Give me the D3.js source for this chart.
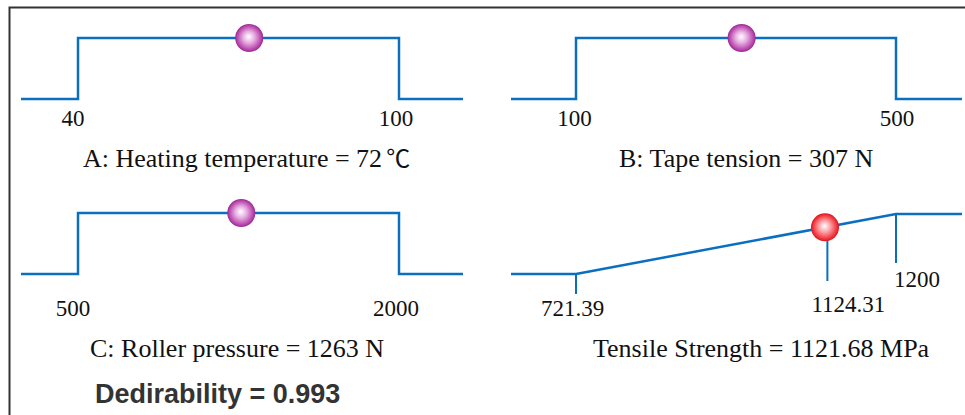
<!DOCTYPE html>
<html>
<head>
<meta charset="utf-8">
<script src="https://cdn.jsdelivr.net/npm/d3@7"></script>
<style>
  html, body { margin: 0; padding: 0; background: #fff; }
  svg { display: block; }
</style>
</head>
<body>
<svg id="chart" width="965" height="415"></svg>
<script>
// ---------------- data ----------------
const factorNames = ["A: Heating temperature", "B: Tape tension", "C: Roller pressure", "Tensile Strength"];
const factorUnits = ["℃", " N", " N", " MPa"];
const lowLimits = [40, 100, 500, 721.39];
const highLimits = [100, 500, 2000, 1200];
const optimumValues = [72, 307, 1263, 1121.68];
const optimumLabels = ["72", "307", "1263", "1121.68"];
const lowTickLabels = ["40", "100", "500", "721.39"];
const highTickLabels = ["100", "500", "2000", "1200"];
const predictedTick = 1124.31;
const predictedTickLabel = "1124.31";
const desirabilityValue = "0.993";

// ---------------- layout ----------------
const layout = [
  { left: 21, right: 463, xLow: 78, xHigh: 399, yTop: 38, yBase: 99, tickY: 126, titleX: 83, titleY: 167, kind: "step", grad: "gPurple" },
  { left: 511, right: 962, xLow: 576, xHigh: 896, yTop: 38, yBase: 99, tickY: 126, titleX: 619, titleY: 167, kind: "step", grad: "gPurple" },
  { left: 21, right: 463, xLow: 78, xHigh: 399, yTop: 213, yBase: 274, tickY: 316, titleX: 90, titleY: 357, kind: "step", grad: "gPurple" },
  { left: 511, right: 962, xLow: 576, xHigh: 896, xOpt: 825, yTop: 214, yBase: 274, tickY: 316, titleX: 593, titleY: 357, kind: "ramp", grad: "gRed" }
];
const lineColor = "#0a6fc0";
const serif = "'Liberation Serif', 'Times New Roman', 'DejaVu Serif', 'Noto Sans CJK SC', serif";

const svg = d3.select("#chart");
const defs = svg.append("defs");

function radial(id, mid, edge, rim) {
  const g = defs.append("radialGradient").attr("id", id)
    .attr("cx", "50%").attr("cy", "50%").attr("r", "50%")
    .attr("fx", "48%").attr("fy", "45%");
  g.append("stop").attr("offset", "0%").attr("stop-color", "#ffffff");
  g.append("stop").attr("offset", "40%").attr("stop-color", mid);
  g.append("stop").attr("offset", "88%").attr("stop-color", edge);
  g.append("stop").attr("offset", "100%").attr("stop-color", rim);
}
radial("gPurple", "#e8b0e2", "#b540aa", "#952a90");
radial("gRed", "#fca4a8", "#ef2c35", "#d6161f");

// frame (left and top edges of surrounding box)
svg.append("path")
  .attr("d", d3.line()([[9.5, 415], [9.5, 7.5], [965, 7.5]]))
  .attr("fill", "none").attr("stroke", "#333").attr("stroke-width", 2);

layout.forEach((L, i) => {
  const g = svg.append("g");
  const y = d3.scaleLinear().domain([0, 1]).range([L.yBase, L.yTop]);
  let x;
  if (L.kind === "step") {
    x = d3.scaleLinear().domain([lowLimits[i], highLimits[i]]).range([L.xLow, L.xHigh]);
  } else {
    x = d3.scaleLinear().domain([lowLimits[i], optimumValues[i], highLimits[i]]).range([L.xLow, L.xOpt, L.xHigh]);
  }
  const outerLow = x.invert(L.left), outerHigh = x.invert(L.right);
  let pts;
  if (L.kind === "step") {
    pts = [[outerLow, 0], [lowLimits[i], 0], [lowLimits[i], 1], [highLimits[i], 1], [highLimits[i], 0], [outerHigh, 0]];
  } else {
    pts = [[outerLow, 0], [lowLimits[i], 0], [highLimits[i], 1], [outerHigh, 1]];
  }
  const line = d3.line().x(d => x(d[0])).y(d => y(d[1]));

  const tickFont = { "font-family": serif, "font-size": "23px", "fill": "#111" };
  const applyFont = (sel, f) => { Object.entries(f).forEach(([k, v]) => sel.attr(k, v)); return sel; };

  // marker position
  const mx = x(optimumValues[i]);
  let my;
  if (L.kind === "step") {
    my = y(1);
  } else {
    const t = (mx - x(lowLimits[i])) / (x(highLimits[i]) - x(lowLimits[i]));
    my = y(0) + t * (y(1) - y(0));
  }

  if (L.kind === "ramp") {
    const rampY = v => {
      const t = (x(v) - x(lowLimits[i])) / (x(highLimits[i]) - x(lowLimits[i]));
      return y(0) + t * (y(1) - y(0));
    };
    const ticks = [
      { v: lowLimits[i], label: lowTickLabels[i], y0: y(0), y1: 294, lx: -3.5, ly: 316, anchor: "middle" },
      { v: predictedTick, label: predictedTickLabel, y0: rampY(predictedTick), y1: 281, lx: 21, ly: 312, anchor: "middle" },
      { v: highLimits[i], label: highTickLabels[i], y0: y(1), y1: 263, lx: -2, ly: 287, anchor: "start" }
    ];
    ticks.forEach(t => {
      g.append("line")
        .attr("x1", x(t.v)).attr("x2", x(t.v))
        .attr("y1", t.y0).attr("y2", t.y1)
        .attr("stroke", lineColor).attr("stroke-width", 2);
      applyFont(g.append("text"), tickFont)
        .attr("x", x(t.v) + t.lx).attr("y", t.ly)
        .attr("text-anchor", t.anchor)
        .text(t.label);
    });
  } else {
    const dxs = i === 1 ? [-1.5, 1] : [-5, -3];
    [[lowLimits[i], lowTickLabels[i], dxs[0]], [highLimits[i], highTickLabels[i], dxs[1]]].forEach(([v, lab, dx]) => {
      applyFont(g.append("text"), tickFont)
        .attr("x", x(v) + dx).attr("y", L.tickY)
        .attr("text-anchor", "middle")
        .text(lab);
    });
  }

  g.append("path")
    .attr("d", line(pts))
    .attr("fill", "none")
    .attr("stroke", lineColor)
    .attr("stroke-width", 2.5)
    .attr("stroke-linejoin", "miter");

  g.append("circle")
    .attr("cx", mx).attr("cy", my).attr("r", 14)
    .attr("fill", `url(#${L.grad})`);

  // title
  const unit = factorUnits[i];
  const title = g.append("text")
    .attr("x", L.titleX).attr("y", L.titleY)
    .attr("font-family", serif).attr("font-size", "26px").attr("fill", "#111");
  if (unit === "℃") {
    title.text(`${factorNames[i]} = ${optimumLabels[i]}`);
    title.append("tspan")
      .attr("dx", 4)
      .attr("font-family", "'Noto Sans CJK SC', 'DejaVu Serif', serif")
      .attr("font-size", "24px")
      .text(unit);
  } else {
    title.text(`${factorNames[i]} = ${optimumLabels[i]}${unit}`);
  }
});

svg.append("text")
  .attr("x", 95).attr("y", 403)
  .attr("font-family", "'Liberation Sans', Arial, sans-serif")
  .attr("font-weight", "bold")
  .attr("font-size", "27px")
  .attr("fill", "#333")
  .text(`Dedirability = ${desirabilityValue}`);
</script>
</body>
</html>
